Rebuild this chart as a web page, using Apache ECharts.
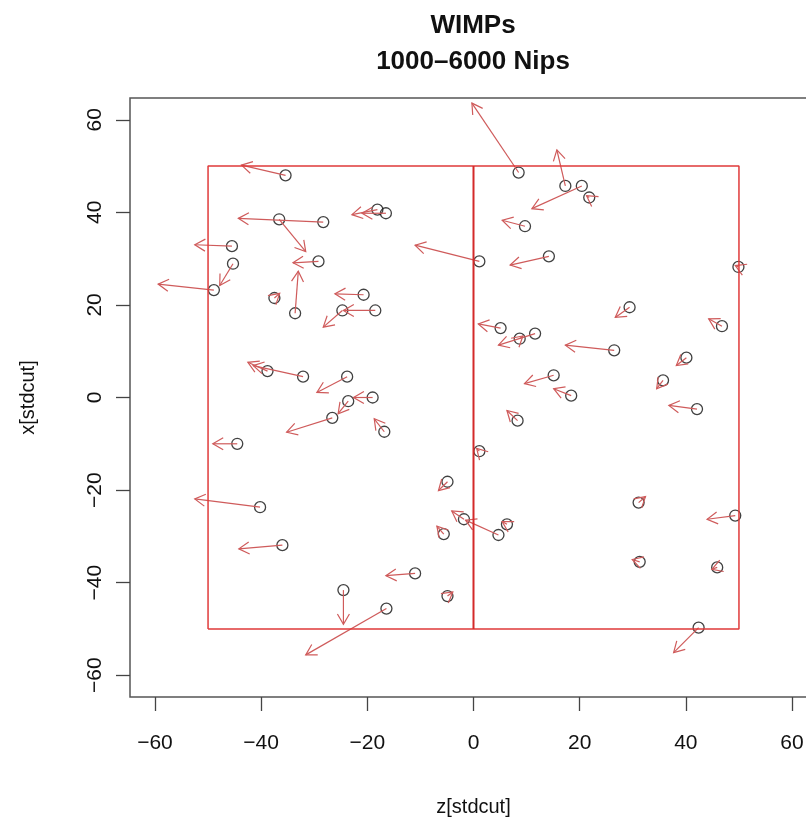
<!DOCTYPE html>
<html>
<head>
<meta charset="utf-8">
<script src="https://cdn.jsdelivr.net/npm/echarts@6/dist/echarts.min.js"></script>
<style>
  html, body { margin: 0; padding: 0; background: #fff; }
  #wimps { width: 806px; height: 817px; }
</style>
</head>
<body>
<div id="wimps"></div>
<script>
// circle positions (start of each arrow)
var startZ = [-35.4, -36.6, -28.3, -18.1, -16.5, -45.5, -45.3, -48.9, -29.2, -33.6,
              -37.5, -20.7, -18.5, -24.7, -38.8, -32.1, -23.8, -19.0, -23.6, -26.6,
              -16.8, -44.5, -40.2, -36.0, -11.0, -24.5, -16.4, -4.9, -1.8, -5.6,
              -4.9, 8.5, 17.3, 20.4, 21.8, 9.7, 1.1, 14.2, 49.9, 29.4,
              46.8, 5.1, 11.6, 8.7, 26.5, 40.1, 15.1, 35.7, 18.4, 42.1,
              8.3, 1.1, 31.1, 49.3, 6.3, 4.7, 31.3, 45.9, 42.4];
var startX = [48.0, 38.5, 37.9, 40.6, 39.8, 32.7, 28.9, 23.2, 29.4, 18.2,
              21.5, 22.2, 18.8, 18.8, 5.7, 4.5, 4.5, 0.0, -0.8, -4.4,
              -7.4, -10.0, -23.7, -31.9, -38.0, -41.6, -45.6, -18.2, -26.3, -29.5,
              -42.9, 48.6, 45.7, 45.7, 43.2, 37.0, 29.4, 30.5, 28.2, 19.5,
              15.4, 15.0, 13.8, 12.7, 10.2, 8.6, 4.8, 3.7, 0.4, -2.5,
              -5.0, -11.6, -22.7, -25.5, -27.4, -29.7, -35.5, -36.7, -49.7];
// arrow tips
var endZ = [-43.7, -31.6, -44.3, -22.9, -21.0, -52.5, -47.8, -59.4, -34.0, -33.0,
            -36.5, -26.1, -24.5, -28.3, -42.5, -41.5, -29.5, -22.6, -25.5, -35.2,
            -18.7, -49.1, -52.5, -44.2, -16.5, -24.5, -31.6, -6.6, -4.1, -6.9,
            -3.9, -0.3, 15.7, 11.0, 21.3, 5.4, -11.0, 6.9, 49.3, 26.7,
            44.3, 0.9, 4.7, 9.3, 17.3, 38.2, 9.6, 34.5, 15.1, 36.8,
            6.3, 0.6, 32.4, 44.0, 5.4, -1.5, 29.9, 44.9, 37.7];
var endX = [50.2, 31.5, 38.7, 39.5, 39.8, 33.0, 24.2, 24.5, 29.1, 27.3,
            22.5, 22.4, 18.8, 15.2, 7.6, 6.9, 1.1, 0.0, -3.5, -7.5,
            -4.6, -10.0, -21.9, -32.7, -38.5, -49.0, -55.6, -20.1, -24.5, -27.8,
            -42.0, 63.6, 53.5, 40.8, 43.6, 38.3, 32.9, 28.6, 28.5, 17.3,
            17.0, 15.9, 11.3, 13.3, 11.3, 6.9, 3.0, 1.9, 1.9, -1.7,
            -2.8, -11.0, -21.4, -26.3, -26.8, -26.5, -35.0, -37.1, -55.1];

// cut box: outline and divider
var boxZ = [-50, -50, 50, 50, -50];
var boxX = [-50, 50, 50, -50, -50];
var divZ = [0, 0];
var divX = [-50, 50];

var tickVals = [-60, -40, -20, 0, 20, 40, 60];

var circles = startZ.map(function (z, i) { return [z, startX[i]]; });
var arrows = startZ.map(function (z, i) { return [z, startX[i], endZ[i], endX[i]]; });
var boxPts = boxZ.map(function (z, i) { return [z, boxX[i]]; });
var divPts = divZ.map(function (z, i) { return [z, divX[i]]; });

var font = '"Liberation Sans", Arial, Helvetica, sans-serif';
var arrowCol = '#cf5b5b';

function drawArrow(params, api) {
  var p0 = api.coord([api.value(0), api.value(1)]);
  var p1 = api.coord([api.value(2), api.value(3)]);
  var dx = p1[0] - p0[0], dy = p1[1] - p0[1];
  if (Math.sqrt(dx * dx + dy * dy) < 0.5) return;
  var ang = Math.atan2(dy, dx);
  var hl = 12, ha = Math.PI / 6;
  var h1 = [p1[0] - hl * Math.cos(ang - ha), p1[1] - hl * Math.sin(ang - ha)];
  var h2 = [p1[0] - hl * Math.cos(ang + ha), p1[1] - hl * Math.sin(ang + ha)];
  var st = { stroke: arrowCol, lineWidth: 1.2, fill: null };
  return {
    type: 'group',
    children: [
      { type: 'polyline', shape: { points: [p0, p1] }, style: st },
      { type: 'polyline', shape: { points: [h1, p1, h2] }, style: st }
    ]
  };
}

function minusSign(v) { return String(v).replace('-', '\u2212'); }

var myChart = echarts.init(document.getElementById('wimps'));
myChart.setOption({
  animation: false,
  textStyle: { fontFamily: font },
  graphic: [
    { type: 'text', x: 473, y: 26, style: { text: 'WIMPs', font: 'bold 26px ' + font, fill: '#111', align: 'center', verticalAlign: 'middle' } },
    { type: 'text', x: 473, y: 62, style: { text: '1000–6000 Nips', font: 'bold 26px ' + font, fill: '#111', align: 'center', verticalAlign: 'middle' } }
  ],
  grid: {
    left: 130, top: 98, width: 687, bottom: 120,
    outerBoundsMode: 'none', containLabel: false,
    show: true, borderColor: '#555', borderWidth: 1.5, backgroundColor: '#fff'
  },
  xAxis: {
    type: 'value', min: -64.7, max: 64.7,
    name: 'z[stdcut]', nameLocation: 'middle', nameGap: 100,
    nameTextStyle: { fontSize: 20, color: '#111', fontFamily: font },
    axisLine: { show: false, onZero: false },
    splitLine: { show: false },
    axisTick: { show: true, customValues: tickVals, length: 14, inside: false, lineStyle: { color: '#444', width: 1.3 } },
    axisLabel: { customValues: tickVals, fontSize: 21, color: '#111', margin: 36, fontFamily: font, formatter: minusSign }
  },
  yAxis: {
    type: 'value', min: -64.7, max: 64.7,
    name: 'x[stdcut]', nameLocation: 'middle', nameGap: 92,
    nameTextStyle: { fontSize: 20, color: '#111', fontFamily: font },
    axisLine: { show: false, onZero: false },
    splitLine: { show: false },
    axisTick: { show: true, customValues: tickVals, length: 14, inside: false, lineStyle: { color: '#444', width: 1.3 } },
    axisLabel: { customValues: tickVals, fontSize: 21, color: '#111', margin: 24, rotate: 90, fontFamily: font, formatter: minusSign }
  },
  series: [
    {
      type: 'scatter', data: circles, symbol: 'circle', symbolSize: 11, z: 2,
      itemStyle: { color: 'rgba(0,0,0,0)', borderColor: '#111', borderWidth: 1.3 }
    },
    {
      type: 'custom', data: arrows, renderItem: drawArrow, z: 3, clip: false,
      encode: { x: [0, 2], y: [1, 3] }
    },
    {
      type: 'line', data: boxPts, symbol: 'none', z: 4,
      lineStyle: { color: '#e03a3a', width: 1.5 }
    },
    {
      type: 'line', data: divPts, symbol: 'none', z: 4,
      lineStyle: { color: '#d42a2a', width: 2 }
    }
  ]
});
setTimeout(function () { myChart.resize(); });
</script>
</body>
</html>
